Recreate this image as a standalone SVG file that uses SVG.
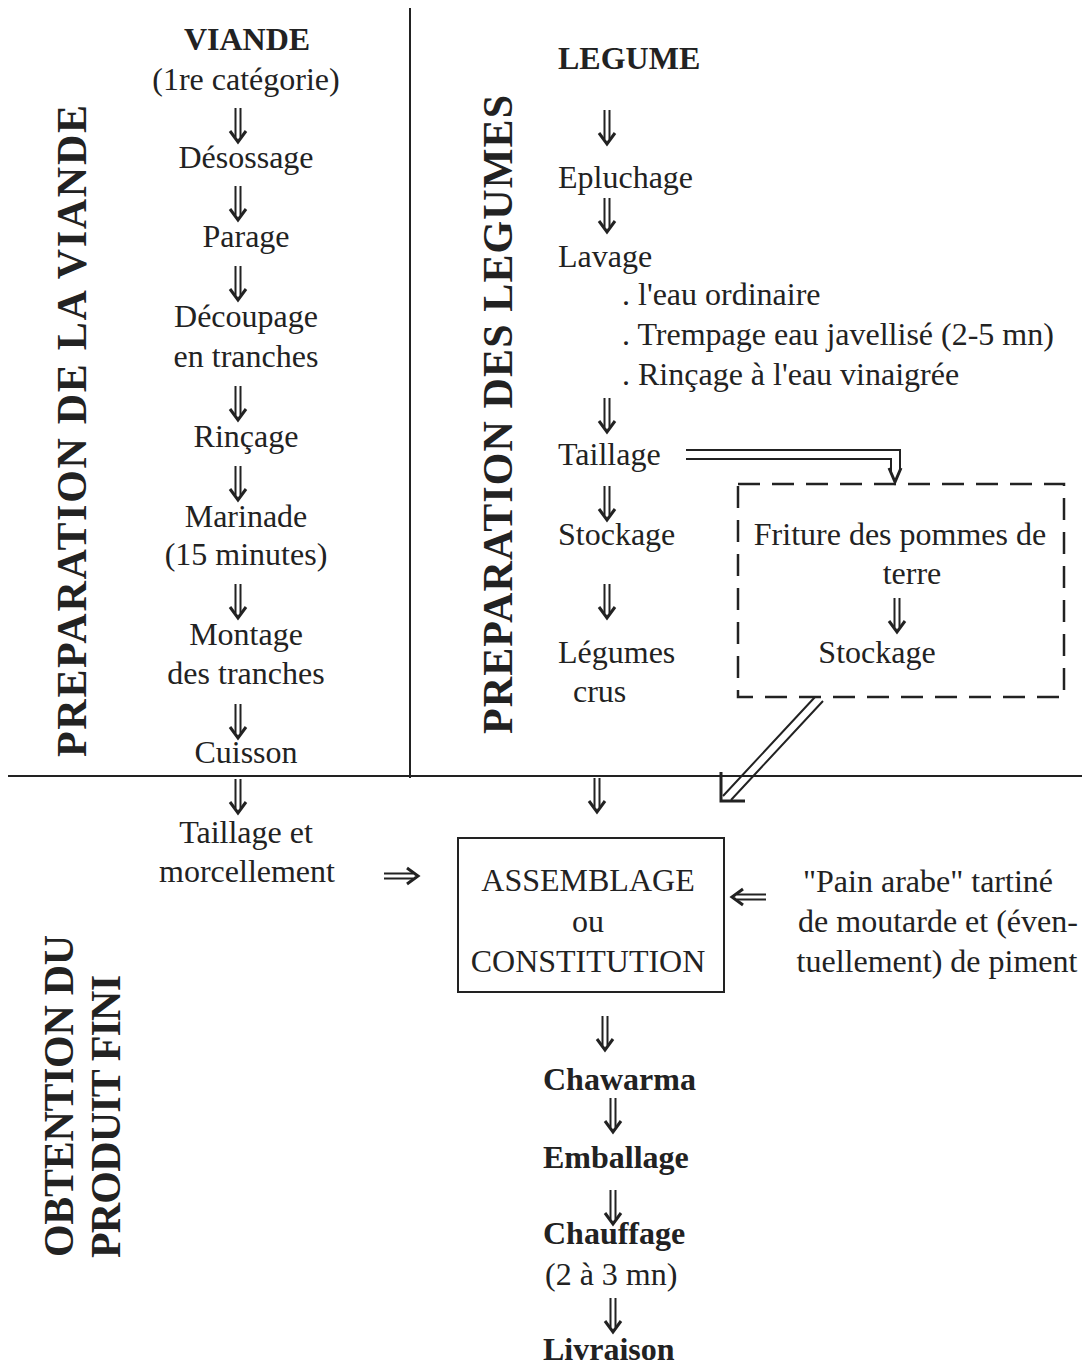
<svg xmlns="http://www.w3.org/2000/svg" width="1086" height="1366" viewBox="0 0 1086 1366">
<style>
text{font-family:"Liberation Serif","Times New Roman",serif;font-size:32px;fill:#222}
.b{font-weight:bold}
.m{text-anchor:middle}
.sec{font-weight:bold;font-size:42px}
.ln{stroke:#222;stroke-width:2;fill:none}
.ar{stroke:#222;stroke-width:2;fill:none}
.ah{stroke:#222;stroke-width:3;fill:none;stroke-linejoin:miter}
.dash{stroke:#222;stroke-width:2.5;fill:none;stroke-dasharray:22 12}
</style>
<defs>
<g id="dn">
<path class="ar" d="M-2.5,0V29M2.5,0V29"/>
<path class="ah" d="M-8,23L0,34L8,23"/>
</g>
</defs>
<g id="dividers">
<path class="ln" d="M410,8V778"/>
<path class="ln" d="M8,776H1082"/>
</g>
<g id="section-labels">
<text class="sec" transform="translate(86,757) rotate(-90)" textLength="652" lengthAdjust="spacing">PREPARATION DE LA VIANDE</text>
<text class="sec" transform="translate(512,734) rotate(-90)" textLength="639" lengthAdjust="spacing">PREPARATION DES LEGUMES</text>
<text class="sec" transform="translate(73,1257) rotate(-90)" textLength="322" lengthAdjust="spacing">OBTENTION DU</text>
<text class="sec" transform="translate(120,1258) rotate(-90)" textLength="283" lengthAdjust="spacing">PRODUIT FINI</text>
</g>
<g id="viande">
<text class="b m" x="247" y="50">VIANDE</text>
<text class="m" x="246" y="90">(1re catégorie)</text>
</g>
<g id="desossage"><text class="m" x="246" y="168">Désossage</text></g>
<g id="parage"><text class="m" x="246" y="247">Parage</text></g>
<g id="decoupage"><text class="m" x="246" y="327">Découpage</text><text class="m" x="246" y="367">en tranches</text></g>
<g id="rincage"><text class="m" x="246" y="447">Rinçage</text></g>
<g id="marinade"><text class="m" x="246" y="527">Marinade</text><text class="m" x="246" y="565">(15 minutes)</text></g>
<g id="montage"><text class="m" x="246" y="645">Montage</text><text class="m" x="246" y="684">des tranches</text></g>
<g id="cuisson"><text class="m" x="246" y="763">Cuisson</text></g>
<g id="taillage-morcellement"><text class="m" x="246" y="843">Taillage et</text><text class="m" x="247" y="882">morcellement</text></g>
<g id="legume"><text class="b" x="558" y="69">LEGUME</text></g>
<g id="epluchage"><text x="558" y="188">Epluchage</text></g>
<g id="lavage">
<text x="558" y="267">Lavage</text>
<text x="622" y="305">. l'eau ordinaire</text>
<text x="622" y="345">. Trempage eau javellisé (2-5 mn)</text>
<text x="622" y="385">. Rinçage à l'eau vinaigrée</text>
</g>
<g id="taillage"><text x="558" y="465">Taillage</text></g>
<g id="stockage"><text x="558" y="545">Stockage</text></g>
<g id="legumes-crus"><text x="558" y="663">Légumes</text><text x="573" y="702">crus</text></g>
<g id="friture">
<rect class="dash" x="738" y="484" width="326" height="213"/>
<text class="m" x="900" y="545">Friture des pommes de</text>
<text class="m" x="912" y="584">terre</text>
<text class="m" x="877" y="663">Stockage</text>
</g>
<g id="assemblage">
<rect class="ln" x="458" y="838" width="266" height="154"/>
<text class="m" x="588" y="891">ASSEMBLAGE</text>
<text class="m" x="588" y="932">ou</text>
<text class="m" x="588" y="972">CONSTITUTION</text>
</g>
<g id="pain-arabe">
<text class="m" x="928" y="892">"Pain arabe" tartiné</text>
<text class="m" x="938" y="932">de moutarde et (éven-</text>
<text class="m" x="937" y="972">tuellement) de piment</text>
</g>
<g id="chawarma"><text class="b" x="543" y="1090">Chawarma</text></g>
<g id="emballage"><text class="b" x="543" y="1168">Emballage</text></g>
<g id="chauffage"><text class="b" x="543" y="1244">Chauffage</text><text x="545" y="1285">(2 à 3 mn)</text></g>
<g id="livraison"><text class="b" x="543" y="1360">Livraison</text></g>
<g id="connectors">
<use href="#dn" x="238" y="108"/>
<use href="#dn" x="238" y="186"/>
<use href="#dn" x="238" y="266"/>
<use href="#dn" x="238" y="386"/>
<use href="#dn" x="238" y="466"/>
<use href="#dn" x="238" y="584"/>
<use href="#dn" x="238" y="704"/>
<use href="#dn" x="238" y="779"/>
<use href="#dn" x="607" y="110"/>
<use href="#dn" x="607" y="198"/>
<use href="#dn" x="607" y="398"/>
<use href="#dn" x="607" y="486"/>
<use href="#dn" x="607" y="584"/>
<use href="#dn" x="897" y="598"/>
<use href="#dn" x="597" y="778"/>
<use href="#dn" x="605" y="1016"/>
<use href="#dn" x="613" y="1098"/>
<use href="#dn" x="613" y="1190"/>
<use href="#dn" x="613" y="1298"/>
<use href="#dn" transform="translate(384,876) rotate(-90)"/>
<use href="#dn" transform="translate(766,897) rotate(90)"/>
<path class="ar" d="M686,450H900V472M686,459H891V472"/>
<path class="ah" d="M889,468L895,482L901,468"/>
<path class="ar" d="M815,697L723,796M823,701L731,800"/>
<path class="ah" d="M721,772V801H745"/>
</g>
</svg>
